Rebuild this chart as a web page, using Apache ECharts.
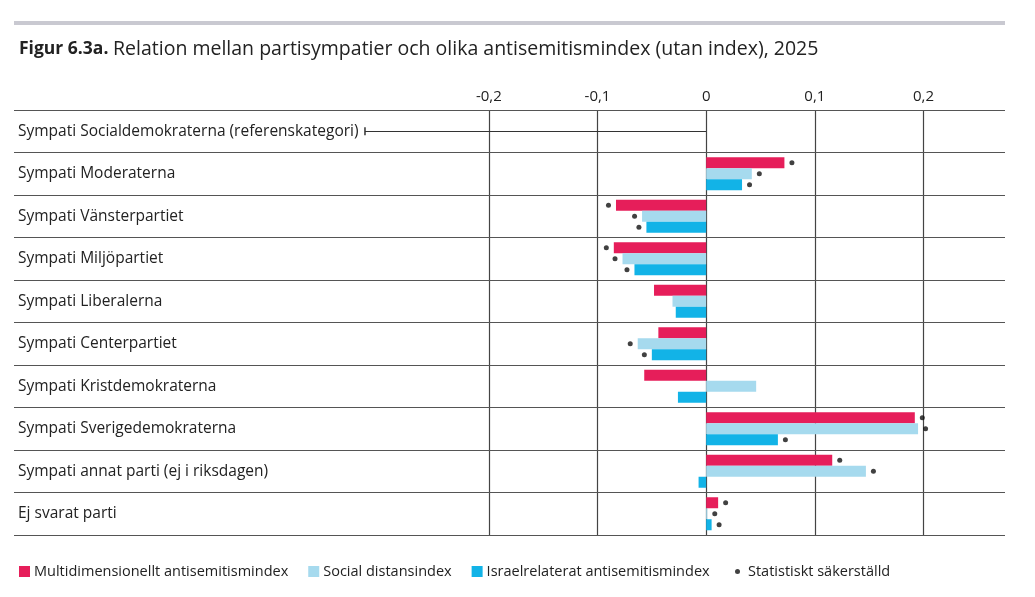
<!DOCTYPE html>
<html>
<head>
<meta charset="utf-8">
<script src="https://cdn.jsdelivr.net/npm/echarts@6/dist/echarts.min.js"></script>
<style>
  html, body { margin: 0; padding: 0; background: #fff; }
  #main { width: 1035px; height: 597px; }
</style>
</head>
<body>
<div id="main"></div>
<script>
// categories top to bottom
const categories = [
  'Sympati Socialdemokraterna (referenskategori)',
  'Sympati Moderaterna',
  'Sympati Vänsterpartiet',
  'Sympati Miljöpartiet',
  'Sympati Liberalerna',
  'Sympati Centerpartiet',
  'Sympati Kristdemokraterna',
  'Sympati Sverigedemokraterna',
  'Sympati annat parti (ej i riksdagen)',
  'Ej svarat parti'
];

const seriesNames = [
  'Multidimensionellt antisemitismindex',
  'Social distansindex',
  'Israelrelaterat antisemitismindex'
];
const dotName = 'Statistiskt säkerställd';

// null = reference category, no bar
const multiValues  = [null, 0.072, -0.083, -0.085, -0.048, -0.044, -0.057, 0.192, 0.116, 0.011];
const socialValues = [null, 0.042, -0.059, -0.077, -0.031, -0.063,  0.046, 0.195, 0.147, 0.001];
const israelValues = [null, 0.033, -0.055, -0.066, -0.028, -0.050, -0.026, 0.066, -0.007, 0.005];

// statistically significant (1 = dot)
const multiSig  = [0, 1, 1, 1, 0, 0, 0, 1, 1, 1];
const socialSig = [0, 1, 1, 1, 0, 1, 0, 1, 1, 1];
const israelSig = [0, 1, 1, 1, 0, 1, 0, 1, 0, 1];

const tickValues = [-0.2, -0.1, 0, 0.1, 0.2];
const refLineStart = -0.314;

const colors = ['#e61e5a', '#a6daee', '#12b3e7'];
const allValues = [multiValues, socialValues, israelValues];
const allSig = [multiSig, socialSig, israelSig];

const barW = 11;
const fontFam = '"Open Sans", "Noto Sans", sans-serif';

var myChart = echarts.init(document.getElementById('main'));

// build dot data from the value arrays
let dots = [];
allValues.forEach(function (vals, s) {
  vals.forEach(function (v, i) {
    if (v === null || !allSig[s][i]) return;
    dots.push({
      value: [v, categories[i]],
      symbolOffset: [v >= 0 ? 7.5 : -7.5, (s - 1) * barW]
    });
  });
});

let barSeries = allValues.map(function (vals, s) {
  return {
    name: seriesNames[s],
    type: 'bar',
    data: vals.map(function (v) { return v === null ? '-' : v; }),
    barWidth: barW,
    barGap: '0%',
    itemStyle: { color: colors[s] },
    silent: true
  };
});

const option = {
  animation: false,
  textStyle: { fontFamily: fontFam },
  title: {
    left: 14,
    top: 34,
    text: '{b|Figur 6.3a.} {n|Relation mellan partisympatier och olika antisemitismindex (utan index), 2025}',
    textStyle: {
      fontWeight: 'normal',
      rich: {
        b: { fontSize: 17.5, fontWeight: 'bold', color: '#222', fontFamily: fontFam },
        n: { fontSize: 19.5, fontWeight: 'normal', color: '#222', fontFamily: fontFam }
      }
    }
  },
  graphic: [{
    type: 'rect',
    shape: { x: 14, y: 21, width: 991, height: 4 },
    style: { fill: '#c9c9d1' },
    silent: true
  }],
  legend: [{
    left: 14,
    top: 559,
    itemWidth: 11,
    itemHeight: 11,
    itemGap: 20,
    icon: 'rect',
    data: seriesNames,
    selectedMode: false,
    textStyle: { fontSize: 14.5, color: '#222', padding: [0, 0, 0, -1] }
  }, {
    left: 730,
    top: 559,
    itemWidth: 5,
    itemHeight: 5,
    icon: 'circle',
    data: [dotName],
    selectedMode: false,
    textStyle: { fontSize: 14.5, color: '#222', padding: [0, 0, 0, 3] }
  }],
  grid: { left: 14, right: 30, top: 110, bottom: 62, containLabel: false },
  xAxis: {
    type: 'value',
    position: 'top',
    min: -0.637,
    max: 0.275,
    axisLine: { show: false },
    axisTick: { show: false, customValues: tickValues },
    axisLabel: {
      customValues: tickValues,
      margin: 6,
      fontSize: 15,
      color: '#222',
      formatter: function (v) { return v === 0 ? '0' : String(v).replace('.', ','); }
    },
    splitLine: { show: true, lineStyle: { color: '#444', width: 1.2 } }
  },
  yAxis: {
    type: 'category',
    inverse: true,
    data: categories,
    axisLine: { show: false },
    axisTick: { show: false },
    axisLabel: { inside: true, margin: 4, interval: 0, fontSize: 15.5, color: '#222' },
    splitLine: { show: true, interval: 0, lineStyle: { color: '#555', width: 1.2 } },
    z: 1
  },
  series: barSeries.concat([{
    name: dotName,
    type: 'scatter',
    data: dots,
    symbol: 'circle',
    symbolSize: 5,
    itemStyle: { color: '#111' },
    silent: true,
    z: 3,
    // leader line for the reference category
    markLine: {
      silent: true,
      symbol: ['rect', 'none'],
      symbolSize: [8, 1.5],
      lineStyle: { color: '#333', width: 1.2, type: 'solid' },
      label: { show: false },
      data: [[
        { coord: [refLineStart, categories[0]] },
        { coord: [0, categories[0]] }
      ]]
    }
  }])
};

myChart.setOption(option);
</script>
</body>
</html>
